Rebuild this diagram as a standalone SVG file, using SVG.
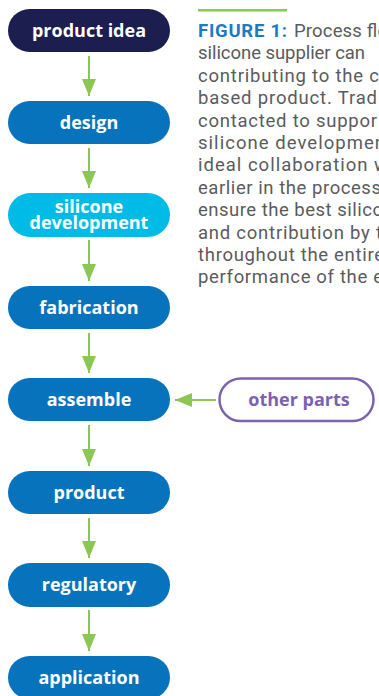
<svg xmlns="http://www.w3.org/2000/svg" width="379" height="696" viewBox="0 0 379 696">
  <defs>
    <style>
      .node rect { stroke: none; }
      .navy { fill: #1b1e4f; }
      .blue { fill: #0773bc; }
      .cyan { fill: #00bbe6; }
      .label { font-family: "Open Sans", "Liberation Sans", sans-serif; font-weight: 700; font-size: 18px; fill: #ffffff; text-anchor: middle; }
      .outline rect { fill: #ffffff; stroke: #7b62b1; stroke-width: 2.5; }
      .outline text { fill: #7b62b1; }
      .edge { stroke: #8cc653; stroke-width: 2; fill: none; }
      .caption { font-family: Roboto, "Liberation Sans", sans-serif; font-size: 18.5px; fill: #5a5b5d; }
      .caption .lead { font-weight: 700; fill: #1d7bc2; }
    </style>
    <marker id="arrow" viewBox="0 0 17 14" refX="17" refY="7" markerWidth="17" markerHeight="14" markerUnits="userSpaceOnUse" orient="auto">
      <path d="M0,0 L17,7 L0,14 Z" fill="#8cc653"/>
    </marker>
  </defs>

  <!-- caption, clipped at the right edge of the canvas -->
  <g id="caption">
    <rect x="198" y="9" width="89" height="2.5" fill="#8cc653"/>
    <text class="caption">
      <tspan class="lead" x="198" y="37" textLength="89">FIGURE 1:</tspan>
      <tspan x="294" y="37" textLength="94">Process flo</tspan>
      <tspan x="198" y="59.4" textLength="167">silicone supplier can</tspan>
      <tspan x="198" y="81.8" textLength="181">contributing to the c</tspan>
      <tspan x="198" y="104.2" textLength="179">based product. Trad</tspan>
      <tspan x="198" y="126.6" textLength="179">contacted to suppor</tspan>
      <tspan x="198" y="149" textLength="187">silicone developmen</tspan>
      <tspan x="198" y="171.4" textLength="190">ideal collaboration w</tspan>
      <tspan x="198" y="193.8" textLength="183">earlier in the process</tspan>
      <tspan x="198" y="216.2" textLength="185">ensure the best silico</tspan>
      <tspan x="198" y="238.6" textLength="184">and contribution by t</tspan>
      <tspan x="198" y="261" textLength="186">throughout the entire</tspan>
      <tspan x="198" y="283.4" textLength="185">performance of the e</tspan>
    </text>
  </g>

  <!-- connectors -->
  <g id="connectors">
    <line class="edge" x1="89" y1="56" x2="89" y2="96" marker-end="url(#arrow)"/>
    <line class="edge" x1="89" y1="148" x2="89" y2="188" marker-end="url(#arrow)"/>
    <line class="edge" x1="89" y1="240" x2="89" y2="281" marker-end="url(#arrow)"/>
    <line class="edge" x1="89" y1="333" x2="89" y2="373" marker-end="url(#arrow)"/>
    <line class="edge" x1="89" y1="425" x2="89" y2="466" marker-end="url(#arrow)"/>
    <line class="edge" x1="89" y1="518" x2="89" y2="558" marker-end="url(#arrow)"/>
    <line class="edge" x1="89" y1="610" x2="89" y2="651" marker-end="url(#arrow)"/>
    <line class="edge" x1="216" y1="400" x2="175" y2="400" marker-end="url(#arrow)"/>
  </g>

  <!-- process steps -->
  <g id="product-idea" class="node">
    <rect class="navy" x="8" y="9" width="162" height="43" rx="21.5"/>
    <text class="label" x="89" y="37">product idea</text>
  </g>
  <g id="design" class="node">
    <rect class="blue" x="8" y="101" width="162" height="43" rx="21.5"/>
    <text class="label" x="89" y="129">design</text>
  </g>
  <g id="silicone-development" class="node">
    <rect class="cyan" x="8" y="193" width="162" height="44" rx="22"/>
    <text class="label" x="89" y="213">silicone</text>
    <text class="label" x="89" y="229">development</text>
  </g>
  <g id="fabrication" class="node">
    <rect class="blue" x="8" y="286" width="162" height="43" rx="21.5"/>
    <text class="label" x="89" y="314">fabrication</text>
  </g>
  <g id="assemble" class="node">
    <rect class="blue" x="8" y="378" width="162" height="43" rx="21.5"/>
    <text class="label" x="89" y="406">assemble</text>
  </g>
  <g id="other-parts" class="node outline">
    <rect x="219.5" y="378.5" width="154" height="42.5" rx="21.25"/>
    <text class="label" x="299" y="406">other parts</text>
  </g>
  <g id="product" class="node">
    <rect class="blue" x="8" y="471" width="162" height="43" rx="21.5"/>
    <text class="label" x="89" y="499">product</text>
  </g>
  <g id="regulatory" class="node">
    <rect class="blue" x="8" y="563" width="162" height="44" rx="22"/>
    <text class="label" x="89" y="591">regulatory</text>
  </g>
  <g id="application" class="node">
    <rect class="blue" x="8" y="656" width="162" height="43" rx="21.5"/>
    <text class="label" x="89" y="684">application</text>
  </g>
</svg>
